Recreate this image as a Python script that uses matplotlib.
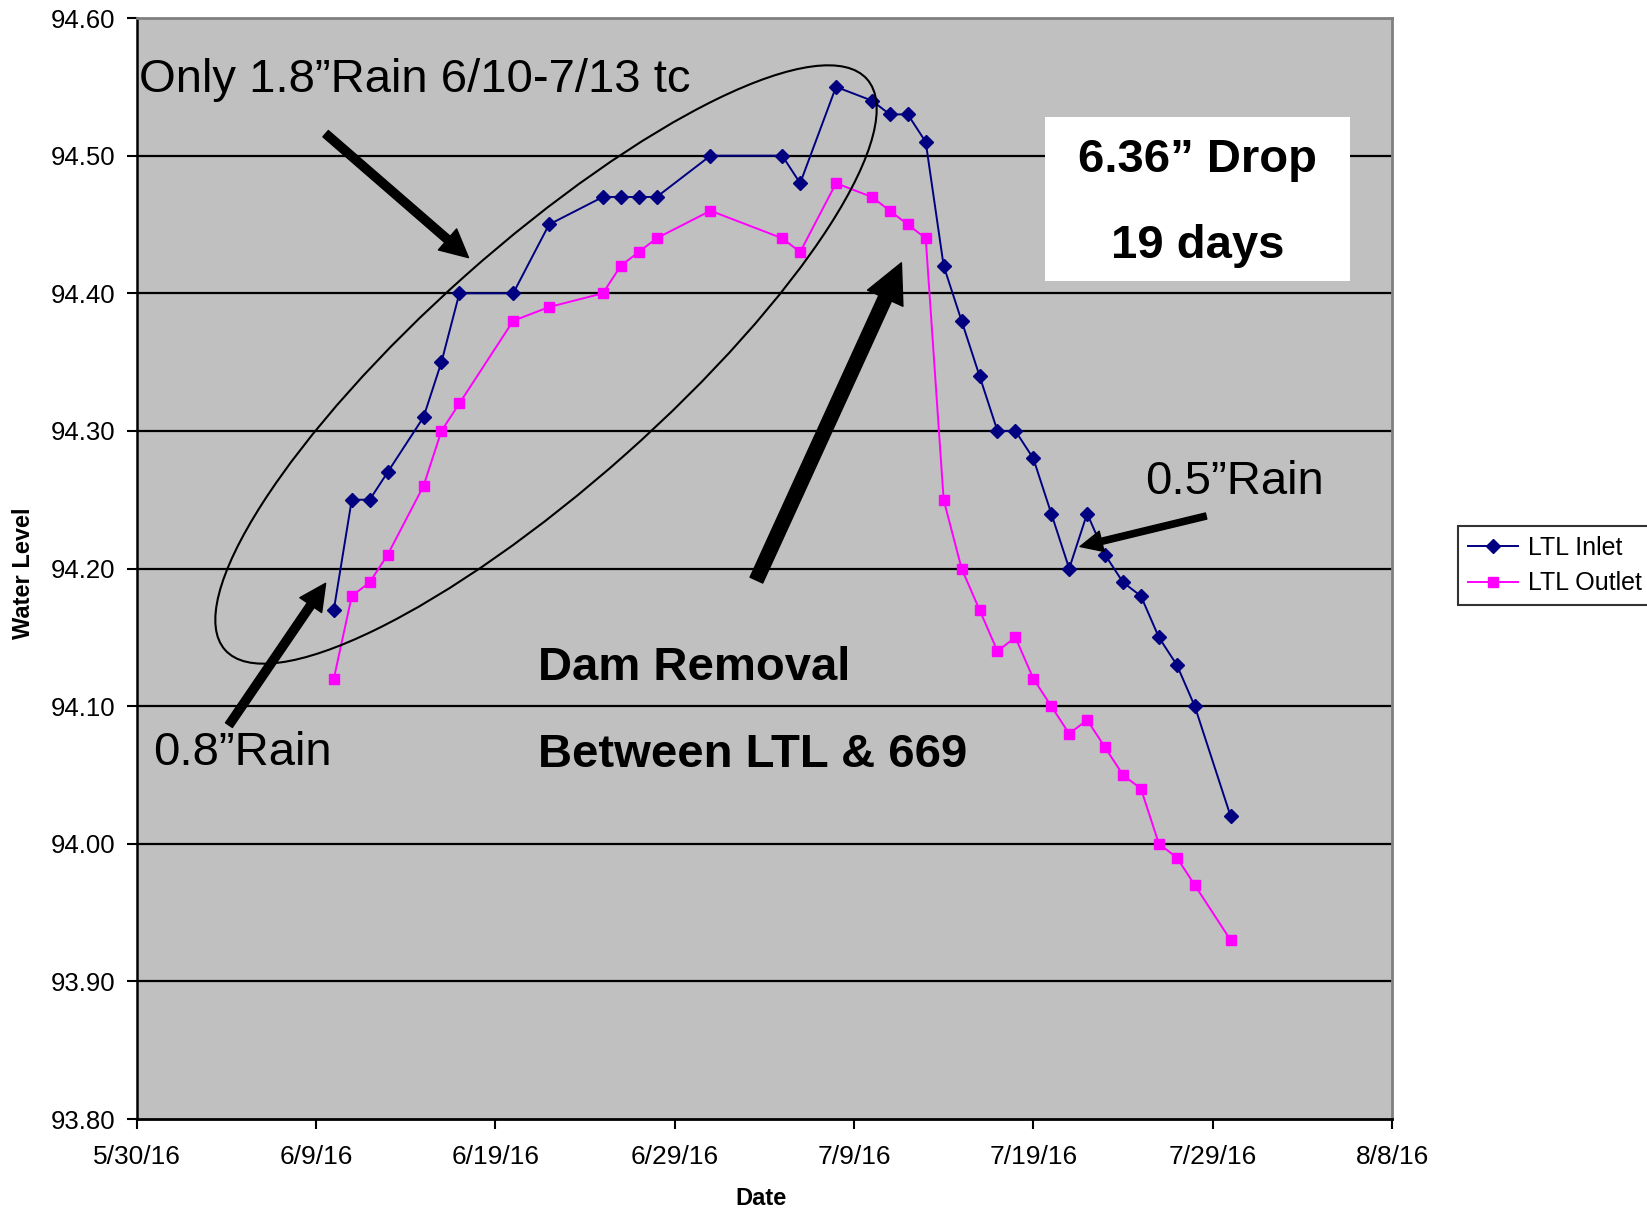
import numpy as np
import pandas as pd
import matplotlib
matplotlib.use("Agg")
import matplotlib.pyplot as plt
from matplotlib.patches import Ellipse, Rectangle

plt.rcParams['font.family'] = ['Liberation Sans', 'DejaVu Sans']

# dates of the readings (same days for both gauges)
dates = ["2016-06-10", "2016-06-11", "2016-06-12", "2016-06-13", "2016-06-15",
         "2016-06-16", "2016-06-17", "2016-06-20", "2016-06-22", "2016-06-25",
         "2016-06-26", "2016-06-27", "2016-06-28", "2016-07-01", "2016-07-05",
         "2016-07-06", "2016-07-08", "2016-07-10", "2016-07-11", "2016-07-12",
         "2016-07-13", "2016-07-14", "2016-07-15", "2016-07-16", "2016-07-17",
         "2016-07-18", "2016-07-19", "2016-07-20", "2016-07-21", "2016-07-22",
         "2016-07-23", "2016-07-24", "2016-07-25", "2016-07-26", "2016-07-27",
         "2016-07-28", "2016-07-30"]

inlet = [94.17, 94.25, 94.25, 94.27, 94.31, 94.35, 94.40, 94.40, 94.45, 94.47,
         94.47, 94.47, 94.47, 94.50, 94.50, 94.48, 94.55, 94.54, 94.53, 94.53,
         94.51, 94.42, 94.38, 94.34, 94.30, 94.30, 94.28, 94.24, 94.20, 94.24,
         94.21, 94.19, 94.18, 94.15, 94.13, 94.10, 94.02]

outlet = [94.12, 94.18, 94.19, 94.21, 94.26, 94.30, 94.32, 94.38, 94.39, 94.40,
          94.42, 94.43, 94.44, 94.46, 94.44, 94.43, 94.48, 94.47, 94.46, 94.45,
          94.44, 94.25, 94.20, 94.17, 94.14, 94.15, 94.12, 94.10, 94.08, 94.09,
          94.07, 94.05, 94.04, 94.00, 93.99, 93.97, 93.93]

x_ticks = pd.date_range("2016-05-30", "2016-08-08", freq="10D")
y_ticks = np.arange(93.80, 94.601, 0.10)

x = pd.to_datetime(dates)

fig = plt.figure(figsize=(16.47, 12.12), dpi=100)
ax = fig.add_axes([0.0829, 0.0767, 0.7623, 0.9084])
ax.set_facecolor("#C0C0C0")

for v in y_ticks[1:-1]:
    ax.axhline(v, color="black", lw=1.6, zorder=1)

ax.plot(x, inlet, color="#000080", lw=1.4, marker="D", ms=7.5, label="LTL Inlet", zorder=3)
ax.plot(x, outlet, color="#FF00FF", lw=1.4, marker="s", ms=7, label="LTL Outlet", zorder=3)

ax.set_xlim(x_ticks[0], x_ticks[-1])
ax.set_ylim(93.80, 94.60)
ax.set_xticks(x_ticks)
ax.set_xticklabels([f"{d.month}/{d.day}/{d:%y}" for d in x_ticks], fontsize=19)
ax.set_yticks(y_ticks)
ax.set_yticklabels([f"{v:.2f}" for v in y_ticks], fontsize=18.5)
ax.tick_params(axis="x", direction="out", length=7, width=1.5, pad=12)
ax.tick_params(axis="y", direction="out", length=7, width=1.5, pad=8)

ax.spines["left"].set_color("black")
ax.spines["bottom"].set_color("black")
ax.spines["left"].set_linewidth(1.8)
ax.spines["bottom"].set_linewidth(2.0)
ax.spines["top"].set_color("#808080")
ax.spines["right"].set_color("#808080")
ax.spines["top"].set_linewidth(2)
ax.spines["right"].set_linewidth(2)

ax.set_xlabel("Date", fontsize=17, fontweight="bold", va="center", ha="center")
ax.set_ylabel("Water Level", fontsize=17, fontweight="bold", va="center", ha="center")
ax.xaxis.set_label_coords(0.497, -0.0725)
ax.yaxis.set_label_coords(-0.0904, 0.496)

# annotations
ax.text(0.0017, 0.9436, "Only 1.8\u201dRain 6/10-7/13 tc", transform=ax.transAxes,
        fontsize=34, ha="left", va="center")
ax.text(0.0134, 0.3329, "0.8\u201dRain", transform=ax.transAxes,
        fontsize=34, ha="left", va="center")
ax.text(0.8033, 0.5782, "0.5\u201dRain", transform=ax.transAxes,
        fontsize=34, ha="left", va="center")
ax.text(0.3197, 0.4093, "Dam Removal", transform=ax.transAxes,
        fontsize=34, fontweight="bold", ha="left", va="center")
ax.text(0.3197, 0.331, "Between LTL & 669", transform=ax.transAxes,
        fontsize=34, fontweight="bold", ha="left", va="center")

ax.add_patch(Rectangle((0.7238, 0.7615), 0.2427, 0.1488, transform=ax.transAxes,
                       facecolor="white", edgecolor="none", zorder=4))
ax.text(0.8452, 0.8711, "6.36\u201d Drop", transform=ax.transAxes,
        fontsize=34, fontweight="bold", ha="center", va="center", zorder=5)
ax.text(0.8452, 0.7928, "19 days", transform=ax.transAxes,
        fontsize=34, fontweight="bold", ha="center", va="center", zorder=5)

arrows = [((0.1506, 0.895), (0.2644, 0.7824), 6, 20, 20),
          ((0.0736, 0.3578), (0.1506, 0.4866), 6, 19, 19),
          ((0.4937, 0.4895), (0.6092, 0.7777), 10, 28, 28),
          ((0.8519, 0.5477), (0.7515, 0.52), 4.5, 15, 16)]
for tail, head, w, hw, hl in arrows:
    ax.annotate("", xy=head, xytext=tail, xycoords="axes fraction",
                textcoords="axes fraction",
                arrowprops=dict(facecolor="black", edgecolor="black", width=w,
                                headwidth=hw, headlength=hl, shrink=0),
                zorder=6)

ell = Ellipse((5.46, 8.475), 8.59, 2.40, angle=41.65, transform=fig.dpi_scale_trans,
              facecolor="none", edgecolor="black", lw=1.5, zorder=6)
ax.add_patch(ell)

leg = ax.legend(loc="upper left", bbox_to_anchor=(0.8855, 0.566),
                bbox_transform=fig.transFigure, fontsize=18, frameon=True,
                fancybox=False, edgecolor="black", borderpad=0.4,
                labelspacing=0.45, handlelength=2.0, handletextpad=0.4,
                borderaxespad=0)
leg.get_frame().set_linewidth(1.5)

fig.savefig("out.png", dpi=100)
